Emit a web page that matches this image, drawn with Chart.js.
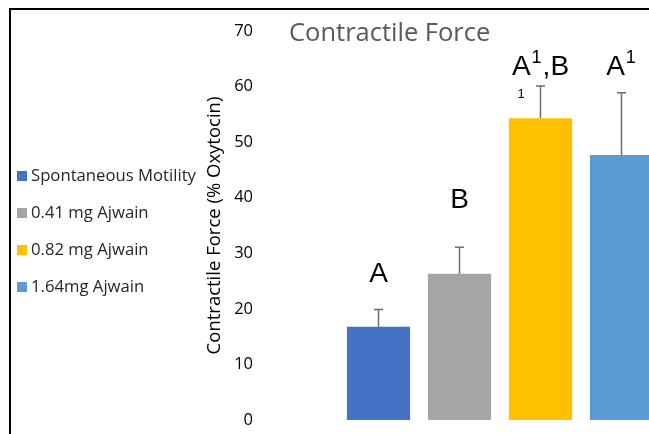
<!DOCTYPE html>
<html>
<head>
<meta charset="utf-8">
<script src="https://cdn.jsdelivr.net/npm/chart.js@4/dist/chart.umd.min.js"></script>
<style>
  html, body { margin: 0; padding: 0; background: #fff; overflow: hidden; }
  #wrap { position: relative; width: 649px; height: 434px; overflow: hidden; }
  #chart { position: absolute; left: 0; top: 0; }
</style>
</head>
<body>
<div id="wrap">
  <canvas id="chart" width="680" height="434"></canvas>
</div>
<script>
// data
const groups = ['Spontaneous Motility', '0.41 mg Ajwain', '0.82 mg Ajwain', '1.64mg Ajwain'];
const meanForce = [16.8, 26.3, 54.3, 47.7];
const errForce = [3.1, 4.8, 5.8, 11.2];
const barColors = ['#4472C4', '#A5A5A5', '#FFC000', '#5B9BD5'];
// significance letters, '^' marks a superscript character
const sigLabels = ['A', 'B', 'A^1,B', 'A^1'];
const sigLevel = [24.8, 38.1, 62.1, 62.1];
const yTicks = [0, 10, 20, 30, 40, 50, 60, 70];

const FONT = "'Open Sans', 'Noto Sans', sans-serif";

// error bars (upper only, like the excel original)
const errorBars = {
  id: 'errorBars',
  afterDatasetsDraw(chart) {
    const ctx = chart.ctx;
    const meta = chart.getDatasetMeta(0);
    const y = chart.scales.y;
    ctx.save();
    ctx.strokeStyle = '#6d6d6d';
    ctx.lineWidth = 1.5;
    meta.data.forEach((bar, i) => {
      const top = y.getPixelForValue(meanForce[i] + errForce[i]);
      ctx.beginPath();
      ctx.moveTo(bar.x, bar.y);
      ctx.lineTo(bar.x, top);
      ctx.moveTo(bar.x - 4.5, top);
      ctx.lineTo(bar.x + 4.5, top);
      ctx.stroke();
    });
    ctx.restore();
  }
};

// letters above bars
const sigText = {
  id: 'sigText',
  afterDatasetsDraw(chart) {
    const ctx = chart.ctx;
    const meta = chart.getDatasetMeta(0);
    const y = chart.scales.y;
    const big = "28px 'Liberation Sans', Arial, sans-serif";
    const sup = "18px 'Liberation Sans', Arial, sans-serif";
    ctx.save();
    ctx.fillStyle = '#000';
    ctx.textBaseline = 'alphabetic';
    meta.data.forEach((bar, i) => {
      // split into parts
      const parts = [];
      const s = sigLabels[i];
      for (let k = 0; k < s.length; k++) {
        if (s[k] === '^') { parts.push({ t: s[k + 1], sup: true }); k++; }
        else parts.push({ t: s[k], sup: false });
      }
      let w = 0;
      parts.forEach(p => { ctx.font = p.sup ? sup : big; p.w = ctx.measureText(p.t).width + (p.sup ? 2 : 0); w += p.w; });
      let x = bar.x - w / 2;
      const base = y.getPixelForValue(sigLevel[i]);
      parts.forEach(p => {
        ctx.font = p.sup ? sup : big;
        ctx.fillText(p.t, x + (p.sup ? 1 : 0), p.sup ? base - 12 : base);
        x += p.w;
      });
    });
    // stray wrapped "1" under the third label
    const b3 = meta.data[2];
    ctx.font = "13px 'Liberation Sans', Arial, sans-serif";
    ctx.fillText('1', b3.x - 23, y.getPixelForValue(62.1) + 23);
    ctx.restore();
  }
};

// chart title, left legend and frame
const decor = {
  id: 'decor',
  afterDraw(chart) {
    const ctx = chart.ctx;
    ctx.save();
    ctx.fillStyle = '#595959';
    ctx.font = '25.5px ' + FONT;
    ctx.textBaseline = 'middle';
    ctx.textAlign = 'left';
    ctx.fillText('Contractile Force', 289, 34);

    ctx.font = '16.7px ' + FONT;
    groups.forEach((g, i) => {
      const cy = 176 + i * 37;
      ctx.fillStyle = barColors[i];
      ctx.fillRect(17, cy - 5, 10, 10);
      ctx.fillStyle = '#262626';
      ctx.fillText(g, 31, cy);
    });

    ctx.strokeStyle = '#000';
    ctx.lineWidth = 2;
    ctx.beginPath();
    ctx.moveTo(10, 440);
    ctx.lineTo(10, 9);
    ctx.lineTo(700, 9);
    ctx.stroke();
    ctx.restore();
  }
};

new Chart(document.getElementById('chart').getContext('2d'), {
  type: 'bar',
  data: {
    labels: groups,
    datasets: [{
      data: meanForce,
      backgroundColor: barColors,
      borderWidth: 0,
      categoryPercentage: 1,
      barPercentage: 0.78
    }]
  },
  options: {
    responsive: false,
    animation: false,
    layout: { padding: { left: 200, right: 18, top: 31, bottom: 14 } },
    plugins: {
      legend: { display: false },
      tooltip: { enabled: false }
    },
    scales: {
      x: { display: false },
      y: {
        min: 0,
        max: 70,
        afterBuildTicks(scale) { scale.ticks = yTicks.map(v => ({ value: v })); },
        afterFit(scale) { scale.width = 138; },
        grid: { display: false, drawTicks: true, tickLength: 81 },
        border: { display: false },
        ticks: {
          padding: 4,
          color: '#000',
          font: { family: FONT, size: 16.5 }
        },
        title: {
          display: true,
          text: 'Contractile Force (% Oxytocin)',
          color: '#000',
          font: { family: FONT, size: 18.5 },
          padding: { top: 4, bottom: 0 }
        }
      }
    }
  },
  plugins: [errorBars, sigText, decor]
});
</script>
</body>
</html>
